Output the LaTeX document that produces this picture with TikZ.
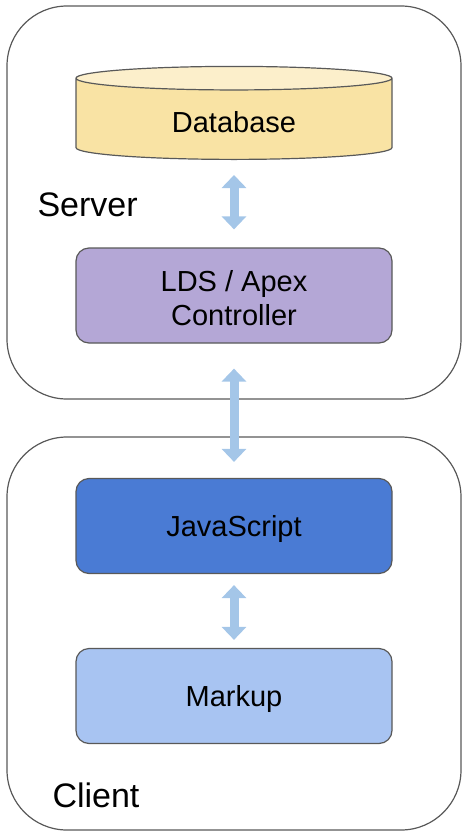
\documentclass[tikz,border=0pt]{standalone}
\usepackage{fontspec}
\setmainfont{Liberation Sans}
\usepackage{xcolor}
\definecolor{dbfill}{HTML}{F9E3A4}
\definecolor{dbtop}{HTML}{FCEFCB}
\definecolor{ctrlfill}{HTML}{B4A7D6}
\definecolor{jsfill}{HTML}{4A7BD4}
\definecolor{markfill}{HTML}{A8C4F2}
\definecolor{arrowblue}{HTML}{A4C6E8}
\definecolor{edge}{HTML}{595959}
\usetikzlibrary{shapes.geometric,arrows.meta}

\begin{document}
\begin{tikzpicture}[
    x=1pt, y=-1pt,
    tier/.style={draw=edge, line width=1.2pt, rounded corners=60pt, minimum width=454pt, minimum height=393pt},
    layer/.style={draw=edge, line width=1.2pt, rounded corners=13pt, minimum width=316pt, minimum height=95pt, text height=27pt, align=center, font=\fontsize{29}{34}\selectfont},
    store/.style={cylinder, shape border rotate=90, aspect=0.18, draw=edge, line width=1.2pt, cylinder uses custom fill, cylinder body fill=dbfill, cylinder end fill=dbtop, minimum width=316pt, minimum height=93pt, font=\fontsize{29}{34}\selectfont},
    lbl/.style={anchor=west, font=\fontsize{34}{40}\selectfont},
    arr/.style={{Triangle[width=24pt,length=13pt]}-{Triangle[width=24pt,length=13pt]}, line width=9pt, draw=arrowblue}
]
\useasboundingbox (0,0) rectangle (468,838);

% Tiers
\node[tier] (server) at (234,202.5) {};
\node[tier] (client) at (234,633.5) {};

% Server side
\node[store, anchor=south] (db) at (234,160) {\raisebox{-2pt}[\height][\depth]{Database}};
\node[layer, fill=ctrlfill, text height=61pt] (ctrl) at (234,295.5) {LDS / Apex\\Controller};
\node[lbl] (srvlbl) at (34,205) {Server};

% Client side
\node[layer, fill=jsfill] (js) at (234,526) {JavaScript};
\node[layer, fill=markfill] (markup) at (234,696) {Markup};
\node[lbl] (cltlbl) at (49,795) {Client};

% Links
\draw[arr, shorten <=15pt, shorten >=18pt] (db.south) -- (ctrl.north);
\draw[arr, shorten <=25pt, shorten >=16pt] (ctrl.south) -- (js.north);
\draw[arr, shorten <=11pt, shorten >=8pt] (js.south) -- (markup.north);

\end{tikzpicture}
\end{document}
